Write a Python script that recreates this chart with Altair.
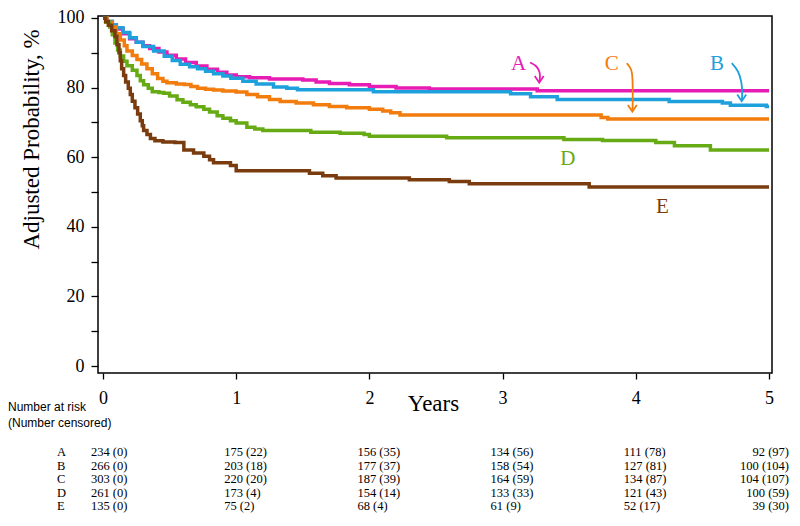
import altair as alt
import pandas as pd

# ---------------- data ----------------
groups = ["A", "B", "C", "D", "E"]
group_colors = ["#E61CB4", "#1EA0DC", "#F27C0E", "#66AA14", "#7A3C0E"]

A_t = [0, 0.03, 0.07, 0.10, 0.15, 0.20, 0.25, 0.30, 0.35, 0.42, 0.48, 0.55, 0.62, 0.70, 0.78, 0.86, 0.93, 1.00, 1.10, 1.25, 1.50, 1.60, 1.70, 1.85, 2.00, 2.20, 2.45, 3.26, 5.00]
A_p = [100, 99.0, 98.0, 96.8, 95.5, 94.0, 93.0, 92.0, 91.2, 90.2, 89.3, 88.2, 87.2, 86.2, 85.3, 84.4, 83.6, 83.1, 82.8, 82.5, 82.2, 81.6, 81.2, 80.8, 80.3, 79.9, 79.6, 79.1, 79.1]

B_t = [0, 0.03, 0.07, 0.10, 0.15, 0.20, 0.25, 0.30, 0.38, 0.46, 0.52, 0.58, 0.65, 0.71, 0.77, 0.83, 0.90, 0.96, 1.05, 1.15, 1.28, 1.38, 1.46, 2.03, 3.06, 3.21, 3.41, 4.25, 4.65, 4.71, 4.98, 5.00]
B_p = [100, 99.0, 98.0, 97.2, 95.8, 94.3, 93.0, 91.8, 90.5, 89.0, 87.8, 86.7, 86.0, 85.4, 84.7, 84.0, 83.3, 82.7, 81.8, 81.0, 80.2, 79.8, 79.4, 78.8, 78.2, 77.4, 76.6, 76.0, 75.6, 74.9, 74.6, 74.6]

C_t = [0, 0.03, 0.068, 0.10, 0.13, 0.16, 0.18, 0.22, 0.255, 0.29, 0.33, 0.37, 0.41, 0.45, 0.48, 0.55, 0.61, 0.66, 0.71, 0.77, 0.83, 0.90, 1.00, 1.08, 1.16, 1.25, 1.33, 1.45, 1.58, 1.70, 1.83, 2.00, 2.10, 2.16, 2.23, 3.74, 3.79, 5.00]
C_p = [100, 98.8, 97.4, 95.5, 93.7, 92.0, 90.5, 89.2, 88.1, 86.8, 85.4, 84.0, 82.6, 81.8, 81.4, 81.0, 80.9, 80.3, 79.8, 79.5, 79.3, 79.0, 78.7, 78.0, 77.4, 76.6, 76.0, 75.6, 75.1, 74.6, 74.2, 73.8, 73.3, 72.8, 72.1, 71.4, 71.0, 71.0]

D_t = [0, 0.02, 0.05, 0.07, 0.09, 0.11, 0.13, 0.155, 0.18, 0.22, 0.255, 0.28, 0.305, 0.34, 0.37, 0.42, 0.456, 0.50, 0.556, 0.60, 0.656, 0.70, 0.757, 0.80, 0.857, 0.90, 0.957, 1.00, 1.08, 1.14, 1.20, 1.56, 1.78, 1.96, 2.00, 2.58, 3.46, 3.75, 4.15, 4.29, 4.56, 5.00]
D_p = [100, 98.8, 97.4, 95.2, 92.8, 90.8, 89.1, 87.6, 86.3, 85.0, 83.5, 82.0, 80.8, 79.8, 78.8, 78.6, 78.4, 77.6, 76.5, 75.8, 75.1, 74.5, 73.8, 73.0, 71.9, 71.2, 70.5, 69.8, 68.6, 68.1, 67.7, 67.2, 66.9, 66.5, 66.0, 65.6, 65.1, 64.8, 64.2, 63.3, 62.1, 62.1]

E_t = [0, 0.02, 0.04, 0.065, 0.09, 0.105, 0.12, 0.13, 0.14, 0.155, 0.17, 0.19, 0.205, 0.22, 0.24, 0.26, 0.28, 0.295, 0.305, 0.33, 0.356, 0.39, 0.45, 0.54, 0.607, 0.68, 0.757, 0.80, 0.83, 0.957, 1.00, 1.55, 1.65, 1.75, 2.30, 2.60, 2.75, 3.65, 5.00]
E_p = [100, 99.0, 97.9, 96.3, 94.7, 92.3, 90.0, 87.7, 85.4, 83.5, 81.6, 79.8, 78.0, 76.1, 74.2, 72.4, 70.5, 69.0, 67.7, 66.5, 65.4, 64.7, 64.4, 64.2, 62.1, 61.2, 60.3, 59.3, 58.4, 57.6, 56.1, 55.4, 54.7, 54.0, 53.5, 53.0, 52.4, 51.4, 51.4]

# curve labels
label_groups = ["A", "C", "B", "D", "E"]
label_t = [3.12, 3.82, 4.61, 3.49, 4.20]
label_p = [86.7, 86.7, 86.7, 59.4, 45.7]

# annotation arrows (curved shafts + heads)
arrow_A_t = [3.206, 3.256, 3.281, 3.281, 3.277]
arrow_A_p = [87.2, 86.3, 84.4, 83.0, 81.7]
arrow_C_t = [3.932, 3.969, 3.977, 3.977, 3.975]
arrow_C_p = [87.0, 85.4, 82.6, 75.1, 73.4]
arrow_B_t = [4.720, 4.770, 4.795, 4.800, 4.796]
arrow_B_p = [87.0, 84.9, 81.6, 78.4, 76.3]
head_groups = ["A", "C", "B"]
head_t = [3.275, 3.974, 4.795]
head_p = [81.4, 73.1, 76.1]

# number at risk table
risk_years = [0, 1, 2, 3, 4, 5]
at_risk_A = [234, 175, 156, 134, 111, 92]
cens_A = [0, 22, 35, 56, 78, 97]
at_risk_B = [266, 203, 177, 158, 127, 100]
cens_B = [0, 18, 37, 54, 81, 104]
at_risk_C = [303, 220, 187, 164, 134, 104]
cens_C = [0, 20, 39, 59, 87, 107]
at_risk_D = [261, 173, 154, 133, 121, 100]
cens_D = [0, 4, 14, 33, 43, 59]
at_risk_E = [135, 75, 68, 61, 52, 39]
cens_E = [0, 2, 4, 9, 17, 30]

x_ticks = [0, 0.5, 1, 1.5, 2, 2.5, 3, 3.5, 4, 4.5, 5]
y_ticks = [0, 10, 20, 30, 40, 50, 60, 70, 80, 90, 100]

# ---------------- tables ----------------
curve_rows = []
for g, ts, ps in [("A", A_t, A_p), ("B", B_t, B_p), ("C", C_t, C_p), ("D", D_t, D_p), ("E", E_t, E_p)]:
    for i, (t, p) in enumerate(zip(ts, ps)):
        curve_rows.append({"group": g, "t": t, "p": p, "i": i})
curves_df = pd.DataFrame(curve_rows)

labels_df = pd.DataFrame({"group": label_groups, "t": label_t, "p": label_p})

arrow_rows = []
for g, ts, ps in [("A", arrow_A_t, arrow_A_p), ("C", arrow_C_t, arrow_C_p), ("B", arrow_B_t, arrow_B_p)]:
    for i, (t, p) in enumerate(zip(ts, ps)):
        arrow_rows.append({"group": g, "t": t, "p": p, "i": i})
arrows_df = pd.DataFrame(arrow_rows)
heads_df = pd.DataFrame({"group": head_groups, "t": head_t, "p": head_p})

table_rows = []
for g, n, c in [("A", at_risk_A, cens_A), ("B", at_risk_B, cens_B), ("C", at_risk_C, cens_C),
                ("D", at_risk_D, cens_D), ("E", at_risk_E, cens_E)]:
    for yr, nn, cc in zip(risk_years, n, c):
        table_rows.append({"group": g, "t": yr, "label": f"{nn} ({cc})"})
table_df = pd.DataFrame(table_rows)
letters_df = pd.DataFrame({"group": groups})

# ---------------- encodings ----------------
SERIF = "Liberation Serif"
x_scale = alt.Scale(domain=[-0.0375, 5.0225], nice=False, zero=False)
y_scale = alt.Scale(domain=[-2.01, 100.57], nice=False, zero=False)
color_scale = alt.Scale(domain=groups, range=group_colors)

x_axis = alt.Axis(values=x_ticks, format="d",
                  labelExpr="datum.value % 1 == 0 ? datum.label : ''",
                  tickSize=6, labelPadding=10, labelFontSize=18,
                  title="Years", titleFontSize=23, titleX=335, titleY=37,
                  titleBaseline="alphabetic", titleAlign="center")
y_axis = alt.Axis(values=y_ticks, labelExpr="datum.value % 20 == 0 ? datum.label : ''",
                  tickSize=7, labelPadding=7, labelFontSize=18,
                  title="Adjusted Probability, %", titleFontSize=23,
                  titleAngle=270, titleX=-60, titleY=123,
                  titleBaseline="alphabetic", titleAlign="center")

X = alt.X("t:Q", scale=x_scale, axis=x_axis)
Y = alt.Y("p:Q", scale=y_scale, axis=y_axis)
COLOR = alt.Color("group:N", scale=color_scale, legend=None)

curves = alt.Chart(curves_df).mark_line(interpolate="step-after", strokeWidth=3.5).encode(
    x=X, y=Y, color=COLOR, order="i:Q")

labels = alt.Chart(labels_df).mark_text(font=SERIF, fontSize=21, baseline="middle", align="center").encode(
    x=X, y=Y, text="group:N", color=COLOR)

arrows = alt.Chart(arrows_df).mark_line(interpolate="basis", strokeWidth=1.8).encode(
    x=X, y=Y, color=COLOR, detail="group:N", order="i:Q")

heads = alt.Chart(heads_df).mark_point(shape="M -1 -1.5 L 0 0 L 1 -1.5", size=80,
                                       filled=False, strokeWidth=1.8, opacity=1).encode(
    x=X, y=Y, color=COLOR)

main = alt.layer(curves, arrows, heads, labels)

ROW_Y = alt.Y("group:N", scale=alt.Scale(type="point", domain=groups, range=[436, 490], padding=0), axis=None)

table_text = alt.Chart(table_df).transform_filter(alt.datum.t < 5).mark_text(
    font=SERIF, fontSize=12.5, align="left", baseline="middle", dx=-12, color="black").encode(
    x=X, y=ROW_Y, text="label:N")

table_last = alt.Chart(table_df).transform_filter(alt.datum.t == 5).mark_text(
    font=SERIF, fontSize=12.5, align="right", baseline="middle", dx=20, color="black").encode(
    x=X, y=ROW_Y, text="label:N")

letters = alt.Chart(letters_df).mark_text(font=SERIF, fontSize=12.5, align="left", baseline="middle",
                                          color="black").encode(
    x=alt.value(-41), y=ROW_Y, text="group:N")

header = alt.Chart(pd.DataFrame({"h": ["Number at risk\n(Number censored)"]})).mark_text(
    font="Liberation Sans", fontSize=12, align="left", baseline="top", lineHeight=15.5,
    lineBreak="\n", color="black").encode(
    x=alt.value(-90), y=alt.value(386), text="h:N")

tab = alt.layer(table_text, table_last, letters, header)

chart = alt.layer(main, tab).resolve_scale(y="independent").properties(
    width=674, height=357,
    autosize=alt.AutoSizeParams(type="none"),
    padding={"left": 90, "top": 8, "right": 20, "bottom": 145},
    background="white",
).configure_view(stroke="black", strokeWidth=1.5).configure_axis(
    grid=False, domain=False, tickColor="black", tickWidth=1.3,
    labelColor="black", labelFont=SERIF, titleFont=SERIF, titleColor="black",
    titleFontWeight="normal")

chart.save("out.html", embed_options={"renderer": "svg", "actions": False})
